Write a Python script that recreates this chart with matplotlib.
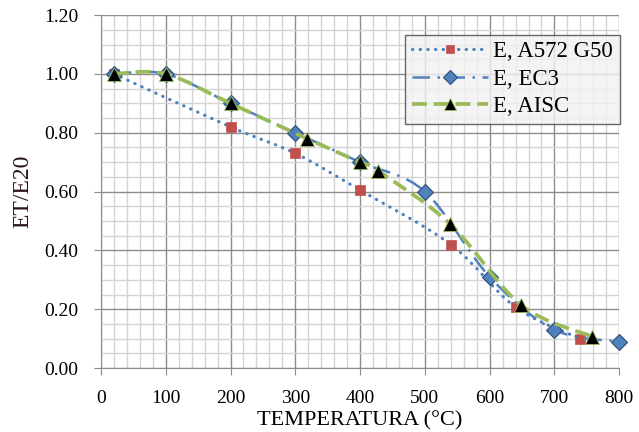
import matplotlib
matplotlib.use("Agg")
import matplotlib.pyplot as plt
from matplotlib.path import Path
from matplotlib.patches import PathPatch
from matplotlib.lines import Line2D
from matplotlib.ticker import MultipleLocator, FormatStrFormatter
import numpy as np

# Modulus of elasticity reduction factor vs temperature
temp_a572 = [20, 200, 300, 400, 540, 640, 740]
ratio_a572 = [1.00, 0.82, 0.73, 0.605, 0.42, 0.207, 0.10]

temp_ec3 = [20, 100, 200, 300, 400, 500, 600, 700, 800]
ratio_ec3 = [1.00, 1.00, 0.90, 0.80, 0.70, 0.60, 0.31, 0.13, 0.09]

temp_aisc = [20, 100, 200, 318, 400, 428, 539, 648, 758]
ratio_aisc = [1.00, 1.00, 0.90, 0.78, 0.70, 0.67, 0.49, 0.215, 0.107]

labels = ["E, A572 G50", "E, EC3", "E, AISC"]

plt.rcParams["font.family"] = ["Liberation Serif", "DejaVu Serif"]

BLUE = "#4F81BD"
RED = "#C0504D"
GREEN = "#9BBB59"


def smooth_path(xs, ys):
    """Bezier path through the points (Catmull-Rom style, like spreadsheet smoothing)."""
    pts = np.column_stack([xs, ys]).astype(float)
    n = len(pts)
    verts = [pts[0]]
    codes = [Path.MOVETO]
    for i in range(n - 1):
        p0 = pts[i - 1] if i > 0 else pts[i]
        p1 = pts[i]
        p2 = pts[i + 1]
        p3 = pts[i + 2] if i + 2 < n else pts[i + 1]
        c1 = p1 + (p2 - p0) / 6.0
        c2 = p2 - (p3 - p1) / 6.0
        verts += [c1, c2, p2]
        codes += [Path.CURVE4] * 3
    return Path(verts, codes)


fig = plt.figure(figsize=(6.39, 4.32), dpi=100)
ax = fig.add_axes([0.158, 0.148, 0.811, 0.817])

series = [
    dict(x=temp_a572, y=ratio_a572, color=BLUE, lw=2.3, ls=(0, (0.1, 2.3)), cap="round",
         marker="s", ms=7.5, mfc=RED, mec=RED, mew=0.5),
    dict(x=temp_ec3, y=ratio_ec3, color=BLUE, lw=1.8, ls=(0, (7, 3, 1, 3)), cap="butt",
         marker="D", ms=8.5, mfc=BLUE, mec="#2c4d75", mew=0.8),
    dict(x=temp_aisc, y=ratio_aisc, color=GREEN, lw=2.7, ls=(0, (4, 1.8)), cap="butt",
         marker="^", ms=10.5, mfc="black", mec=GREEN, mew=0.6),
]

handles = []
for k, s in enumerate(series):
    patch = PathPatch(smooth_path(s["x"], s["y"]), facecolor="none", edgecolor=s["color"],
                      lw=s["lw"], linestyle=s["ls"], capstyle=s["cap"], zorder=3 + 2 * k)
    ax.add_patch(patch)
    ax.plot(s["x"], s["y"], linestyle="none", marker=s["marker"], ms=s["ms"],
            mfc=s["mfc"], mec=s["mec"], mew=s["mew"], zorder=4 + 2 * k, clip_on=False)
    h = Line2D([], [], color=s["color"], lw=s["lw"], linestyle=s["ls"],
               dash_capstyle=s["cap"], marker=s["marker"], ms=s["ms"] * 0.8,
               mfc=s["mfc"], mec=s["mec"], mew=s["mew"])
    handles.append(h)

ax.set_xlim(0, 800)
ax.set_ylim(0, 1.2)
ax.xaxis.set_major_locator(MultipleLocator(100))
ax.xaxis.set_minor_locator(MultipleLocator(20))
ax.yaxis.set_major_locator(MultipleLocator(0.2))
ax.yaxis.set_minor_locator(MultipleLocator(0.05))
ax.yaxis.set_major_formatter(FormatStrFormatter("%.2f"))

ax.grid(which="major", color="#8c8c8c", lw=1.0, zorder=0)
ax.grid(which="minor", color="#d4d4d4", lw=1.0, zorder=0)
ax.set_axisbelow(True)

for side in ["top", "right"]:
    ax.spines[side].set_visible(False)
for side in ["left", "bottom"]:
    ax.spines[side].set_color("#8c8c8c")
ax.tick_params(which="major", length=5, color="#8c8c8c", labelsize=14)
ax.tick_params(which="minor", length=0)
ax.tick_params(axis="x", pad=11)
ax.tick_params(axis="y", pad=11)

ax.set_xlabel("TEMPERATURA (°C)", fontsize=16, labelpad=3)
ax.set_ylabel("ET/E20", fontsize=17, color="#2a0f1c")
ax.yaxis.set_label_coords(-0.13, 0.5)

leg = ax.legend(handles, labels, loc="upper left", bbox_to_anchor=(0.587, 0.945),
                fontsize=16.5, frameon=True, fancybox=False, handlelength=3.3,
                handletextpad=0.25, borderpad=0.3, labelspacing=0.28, borderaxespad=0)
leg.get_frame().set_facecolor("#F2F2F2")
leg.get_frame().set_edgecolor("#404040")
leg.get_frame().set_linewidth(1.0)
leg.set_zorder(20)

fig.savefig("out.png", dpi=100)
